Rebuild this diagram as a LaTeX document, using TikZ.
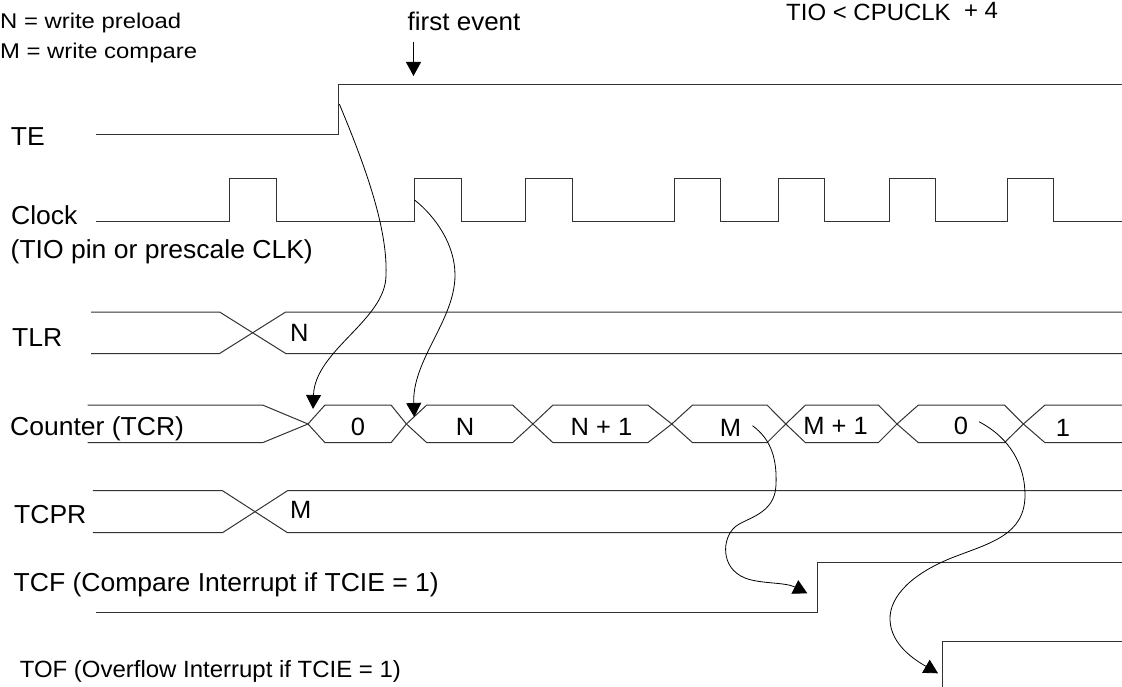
\documentclass[tikz,border=0pt]{standalone}
\usepackage{fontspec}
\setmainfont[FakeStretch=1.02]{Liberation Sans}
\newfontfamily\legfont[FakeStretch=1.12]{Liberation Sans}
\usetikzlibrary{arrows.meta}
\begin{document}
\begin{tikzpicture}[x=1pt,y=-1pt,
  sig/.style={line width=1pt, draw=black!80, line join=miter},
  crv/.style={line width=0.8pt, draw=black, -{Triangle[length=14pt,width=15pt]}},
  lbl/.style={anchor=base west, inner sep=0pt, font=\fontsize{26}{30}\selectfont},
  leg/.style={anchor=base west, inner sep=0pt, font=\legfont\fontsize{21.3}{25}\selectfont},
  tofs/.style={anchor=base west, inner sep=0pt, font=\fontsize{23.5}{28}\selectfont},
  cellt/.style={anchor=base, inner sep=0pt, font=\fontsize{25}{29}\selectfont}]
\useasboundingbox (0,0) rectangle (1122,687);

% legend and top texts
\node[leg] (legN) at (0,28.3) {N = write preload};
\node[leg] (legM) at (0,58.3) {M = write compare};
\node[anchor=base west, inner sep=0pt, font=\fontsize{25.5}{29}\selectfont] (fev) at (407.5,30.7) {first event};
\node[anchor=base west, inner sep=0pt, font=\fontsize{23.5}{27}\selectfont] (tio) at (786,20.7) {TIO < CPUCLK~~\raisebox{2pt}{+ 4}};
\coordinate (fe1) at (413.5,41.7);
\coordinate (fe2) at (413.5,76);
\draw[crv] (fe1) -- (fe2);

% signal labels
\node[lbl] (lTE) at (10.7,146) {TE};
\node[lbl] (lClk) at (11,225) {Clock};
\node[lbl] (lClk2) at (10.5,258.5) {(TIO pin or prescale CLK)};
\node[lbl] (lTLR) at (12,346.7) {TLR};
\node[lbl] (lTCR) at (10,435) {Counter (TCR)};
\node[lbl] (lTCPR) at (14,523.3) {TCPR};
\node[lbl] (lTCF) at (13.5,591) {TCF (Compare Interrupt if TCIE = 1)};
\node[tofs] (lTOF) at (19.6,677.5) {TOF (Overflow Interrupt if TCIE = 1)};

% TE
\draw[sig] (96.4,135) -- (338.6,135) -- (338.6,85) -- (1122,85);

% Clock
\draw[sig] (96.4,222)
  \foreach \r/\f in {229.6/276, 414.6/461.4, 525.7/572.5, 674.7/720.2, 778/824, 889/935, 1007.7/1053.5}
  { -- (\r,222) -- (\r,179) -- (\f,179) -- (\f,222) } -- (1122,222);

% TLR
\draw[sig] (91,312) -- (219.6,312) -- (285.7,353.5) -- (1122,353.5);
\draw[sig] (91,353.5) -- (219.6,353.5) -- (285.7,312) -- (1122,312);
\node[cellt, anchor=base west] (tlrN) at (290,341) {N};

% Counter
\draw[sig] (87.5,405) -- (262.5,405) -- (308,424) -- (262.5,442.7) -- (87.5,442.7);
\foreach \a/\b/\c/\d in {308/325/391/406.4, 406.4/426.8/512.5/532.9, 532.9/553/647.8/671.8,
  671.8/692.6/767/785.8, 785.8/805.5/878.3/897, 897/918.4/1004.4/1023.4}
  \draw[sig] (\a,424) -- (\b,405) -- (\c,405) -- (\d,424) -- (\c,442.7) -- (\b,442.7) -- cycle;
\draw[sig] (1122,405) -- (1045,405) -- (1023.4,424) -- (1045,442.7) -- (1122,442.7);
\node[cellt] (c0) at (358,435) {0};
\node[cellt] (cN) at (465,435) {N};
\node[cellt] (cN1) at (601.5,435) {N + 1};
\node[cellt] (cM) at (730.5,436.5) {M};
\node[cellt] (cM1) at (835.6,434) {M + 1};
\node[cellt] (c0b) at (961,434) {0};
\node[cellt] (c1) at (1063,436.5) {1};

% TCPR
\draw[sig] (92.9,490.7) -- (222.5,490.7) -- (287.5,532.7) -- (1122,532.7);
\draw[sig] (92.9,532.7) -- (222.5,532.7) -- (287.5,490.7) -- (1122,490.7);
\node[cellt, anchor=base west] (tcprM) at (290,518.3) {M};

% TCF
\draw[sig] (96.4,612) -- (817.3,612) -- (817.3,562.3) -- (1122,562.3);
% TOF
\draw[sig] (942.8,687) -- (942.8,641.7) -- (1122,641.7);

% causal curves
\coordinate (s1) at (339.3,104);
\coordinate (e1) at (313,409);
\draw[crv] (s1) .. controls (361,156) and (388,225) .. (386,275)
  .. controls (386,320) and (315,350) .. (e1);

\coordinate (s2) at (414.6,200);
\coordinate (e2) at (414.3,417);
\draw[crv] (s2) .. controls (436,217) and (455,245) .. (455,275)
  .. controls (455,320) and (412,360) .. (e2);

\coordinate (s3) at (752.5,425.7);
\coordinate (e3) at (807.3,593.3);
\draw[crv] (s3) .. controls (772,440) and (777,460) .. (776,485)
  .. controls (775,515) and (745,518) .. (735,527)
  .. controls (722,538) and (720,568) .. (745,578)
  .. controls (760,584) and (785,582) .. (e3);

\coordinate (s4) at (979,421.7);
\coordinate (e4) at (938,673.3);
\draw[crv] (s4) .. controls (1010,438) and (1025,465) .. (1025,495)
  .. controls (1025,535) and (990,543) .. (954,557)
  .. controls (915,572) and (889,595) .. (890,620)
  .. controls (891,645) and (915,660) .. (e4);
\end{tikzpicture}
\end{document}
